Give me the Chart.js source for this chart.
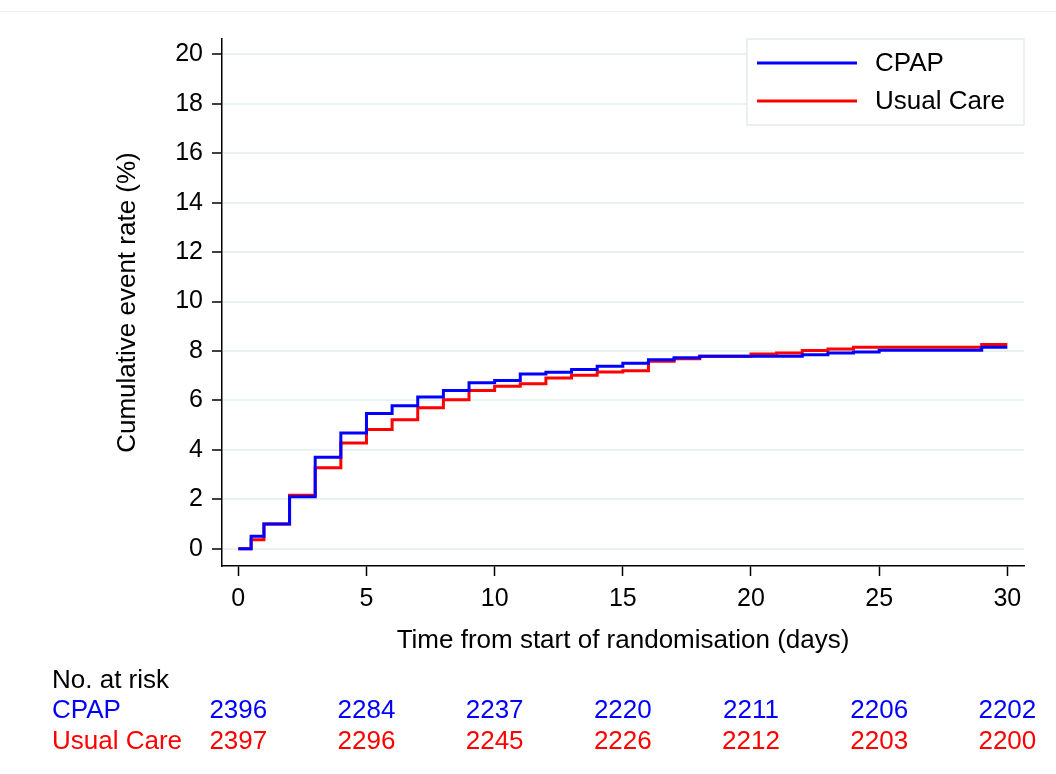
<!DOCTYPE html>
<html>
    <head>
        <title>Cumulative event rate: CPAP vs Usual Care</title>
        <script src="https://cdn.jsdelivr.net/npm/chart.js@4.4.1/dist/chart.umd.min.js"></script>
        <style>
            body { margin: 0; background: #ffffff; }
            #kmChart { display: block; }
        </style>
    </head>
    <body>
        <canvas id="kmChart" width="1056" height="774"></canvas>
        <script>
        // step curves (days, %)
        const cpapDays = [0, 0.5, 1, 2, 3, 4, 5, 6, 7, 8, 9, 10, 11, 12, 13, 14, 15, 16, 17, 18, 22, 23, 24, 25, 29, 30];
        const cpapRate = [0, 0.5, 1.0, 2.1, 3.7, 4.68, 5.47, 5.78, 6.14, 6.4, 6.71, 6.8, 7.07, 7.14, 7.25, 7.38, 7.5, 7.64, 7.72, 7.79, 7.85, 7.92, 7.96, 8.03, 8.15, 8.15];
        const careDays = [0, 0.5, 1, 2, 3, 4, 5, 6, 7, 8, 9, 10, 11, 12, 13, 14, 15, 16, 17, 18, 20, 21, 22, 23, 24, 29, 30];
        const careRate = [0, 0.36, 1.0, 2.16, 3.27, 4.28, 4.82, 5.22, 5.7, 6.03, 6.4, 6.57, 6.67, 6.91, 7.02, 7.15, 7.2, 7.58, 7.68, 7.79, 7.88, 7.92, 8.02, 8.08, 8.15, 8.26, 8.26];

        const xTicks = [0, 5, 10, 15, 20, 25, 30];
        const yTicks = [0, 2, 4, 6, 8, 10, 12, 14, 16, 18, 20];

        // numbers at risk under the axis
        const riskDays = [0, 5, 10, 15, 20, 25, 30];
        const cpapRisk = [2396, 2284, 2237, 2220, 2211, 2206, 2202];
        const careRisk = [2397, 2296, 2245, 2226, 2212, 2203, 2200];

        const FONT = '"Liberation Sans", Arial, sans-serif';
        const BLUE = '#0000ff';
        const RED = '#ff0000';

        const toPoints = (xs, ys) => xs.map((x, i) => ({ x: x, y: ys[i] }));

        const extras = {
            id: 'extras',
            afterDraw(chart) {
                const ctx = chart.ctx;
                const x = chart.scales.x;
                const area = chart.chartArea;
                ctx.save();

                // faint frame line at the very top
                ctx.strokeStyle = '#eef2f3';
                ctx.lineWidth = 1;
                ctx.beginPath();
                ctx.moveTo(0, 11.5);
                ctx.lineTo(1056, 11.5);
                ctx.stroke();

                // legend box, top right inside the plot
                const lx = 747, ly = area.top, lw = area.right - 747, lh = 86;
                ctx.fillStyle = '#ffffff';
                ctx.fillRect(lx, ly, lw, lh);
                ctx.strokeStyle = '#e3ebed';
                ctx.lineWidth = 1.5;
                ctx.strokeRect(lx, ly, lw, lh);
                ctx.font = '26px ' + FONT;
                ctx.textBaseline = 'middle';
                ctx.textAlign = 'left';
                chart.data.datasets.forEach((ds, i) => {
                    const yy = ly + 24 + i * 38;
                    ctx.strokeStyle = ds.borderColor;
                    ctx.lineWidth = 3;
                    ctx.beginPath();
                    ctx.moveTo(lx + 10, yy);
                    ctx.lineTo(lx + 110, yy);
                    ctx.stroke();
                    ctx.fillStyle = '#000000';
                    ctx.fillText(ds.label, lx + 128, yy + 1);
                });

                // risk table
                ctx.fillStyle = '#000000';
                ctx.fillText('No. at risk', 52, 681);
                ctx.fillStyle = BLUE;
                ctx.fillText('CPAP', 52, 711);
                ctx.fillStyle = RED;
                ctx.fillText('Usual Care', 52, 742);
                ctx.textAlign = 'center';
                riskDays.forEach((d, i) => {
                    const px = x.getPixelForValue(d);
                    ctx.fillStyle = BLUE;
                    ctx.fillText(String(cpapRisk[i]), px, 711);
                    ctx.fillStyle = RED;
                    ctx.fillText(String(careRisk[i]), px, 742);
                });
                ctx.restore();
            }
        };

        const chart = new Chart(document.getElementById('kmChart').getContext('2d'), {
            type: 'line',
            data: {
                datasets: [
                    {
                        label: 'CPAP',
                        data: toPoints(cpapDays, cpapRate),
                        borderColor: BLUE,
                        borderWidth: 3,
                        stepped: 'before',
                        pointRadius: 0,
                        fill: false
                    },
                    {
                        label: 'Usual Care',
                        data: toPoints(careDays, careRate),
                        borderColor: RED,
                        borderWidth: 3,
                        stepped: 'before',
                        pointRadius: 0,
                        fill: false
                    }
                ]
            },
            options: {
                responsive: false,
                animation: false,
                layout: { padding: { left: 0, right: 32, top: 39, bottom: 0 } },
                plugins: {
                    legend: { display: false },
                    tooltip: { enabled: false }
                },
                scales: {
                    x: {
                        type: 'linear',
                        min: -0.636,
                        max: 30.65,
                        afterBuildTicks: (s) => { s.ticks = xTicks.map(v => ({ value: v })); },
                        afterFit: (s) => { s.height = 208; },
                        border: { display: true, color: '#000000', width: 1.5 },
                        grid: {
                            drawOnChartArea: false,
                            drawTicks: true,
                            tickLength: 10,
                            tickColor: '#000000',
                            tickWidth: 1.5
                        },
                        ticks: {
                            color: '#000000',
                            padding: 8,
                            maxRotation: 0,
                            font: { family: FONT, size: 25 }
                        },
                        title: {
                            display: true,
                            text: 'Time from start of randomisation (days)',
                            color: '#000000',
                            font: { family: FONT, size: 26 },
                            padding: { top: 0, bottom: 118 }
                        }
                    },
                    y: {
                        min: -0.70,
                        max: 20.62,
                        afterBuildTicks: (s) => { s.ticks = yTicks.map(v => ({ value: v })); },
                        afterFit: (s) => { s.width = 222; },
                        border: { display: true, color: '#000000', width: 1.5 },
                        grid: {
                            color: '#eaf1f3',
                            lineWidth: 2,
                            drawTicks: true,
                            tickLength: 10,
                            tickColor: '#000000',
                            tickWidth: 1.5
                        },
                        ticks: {
                            color: '#000000',
                            padding: 9,
                            font: { family: FONT, size: 25 }
                        },
                        title: {
                            display: true,
                            text: 'Cumulative event rate (%)',
                            color: '#000000',
                            font: { family: FONT, size: 26 },
                            padding: { top: 112, bottom: 0 }
                        }
                    }
                }
            },
            plugins: [extras]
        });
        </script>
    </body>
</html>
